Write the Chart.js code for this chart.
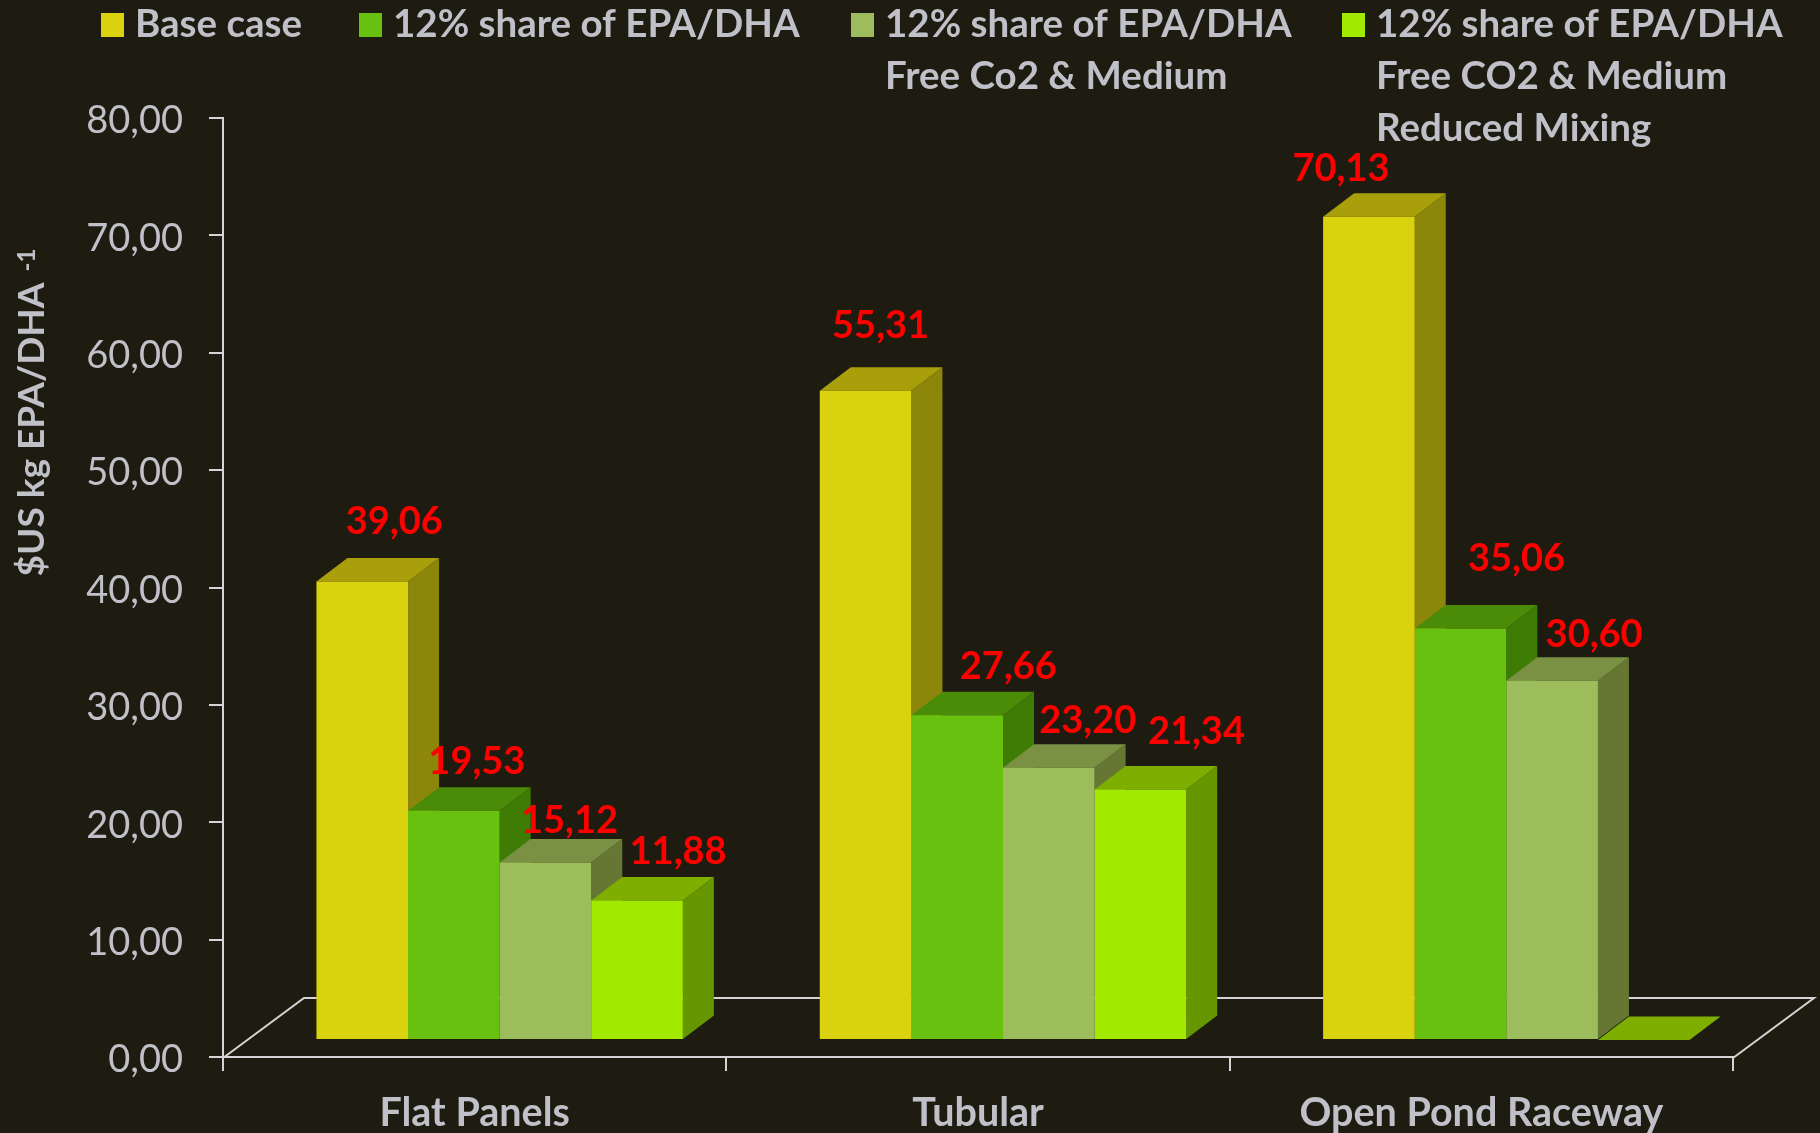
<!DOCTYPE html>
<html><head><meta charset="utf-8">
<style>html,body{margin:0;padding:0;background:#1e1c11}canvas{display:block}</style>
<script src="https://cdn.jsdelivr.net/npm/chart.js@4"></script>
</head><body><canvas id="c" width="1820" height="1133"></canvas>
<script>
const categories = ['Flat Panels', 'Tubular', 'Open Pond Raceway'];
const seriesNames = [
  ['Base case'],
  ['12% share of EPA/DHA'],
  ['12% share of EPA/DHA', 'Free Co2 & Medium'],
  ['12% share of EPA/DHA', 'Free CO2 & Medium', 'Reduced Mixing']
];
const baseCase = [39.06, 55.31, 70.13];
const share12 = [19.53, 27.66, 35.06];
const share12Free = [15.12, 23.20, 30.60];
const share12Reduced = [11.88, 21.34, 0];
const yTickLabels = ['0,00','10,00','20,00','30,00','40,00','50,00','60,00','70,00','80,00'];
const frontColors = ['#dbd20f', '#68c00f', '#9dbc5b', '#a2e900'];
const sideColors = ['#8c860a', '#3f7c06', '#657733', '#669600'];
const topColors = ['#a89f0a', '#4a8c08', '#7a9144', '#7dae00'];
const axisColor = '#d4d4d6', textColor = '#bfc0c8', bgColor = '#1e1c11';
const FONT = 'Lato, Carlito, sans-serif';
const shift = {x: 25, y: -17}, depth = {x: 31, y: 23.5}, floorDepth = {x: 81, y: 60};
// label offsets from the bar's top centre [series][category]
const labelOffsets = [
  [[32,-60],[15,-65],[-28,-48]],
  [[23,-49],[51,-49],[56,-70]],
  [[24,-42],[39,-47],[42,-46]],
  [[41,-49],[56,-58],[0,0]]
];
const legendX = [101, 359, 851, 1342];
const values = [baseCase, share12, share12Free, share12Reduced];

const threeD = {
  id: 'threeD',
  beforeDraw(chart) {
    const {ctx, width, height} = chart;
    ctx.save(); ctx.fillStyle = bgColor; ctx.fillRect(0,0,width,height); ctx.restore();
    const ys = chart.scales.y;
    if (!ys._nudged) {
      ys._nudged = true;
      const orig = ys.drawLabels;
      ys.drawLabels = function (ca) { ctx.save(); ctx.translate(0, 3); orig.call(this, ca); ctx.restore(); };
    }
  },
  beforeDatasetsDraw(chart) {
    const {ctx, chartArea: a} = chart;
    ctx.save();
    ctx.strokeStyle = axisColor; ctx.lineWidth = 2;
    ctx.beginPath();
    ctx.moveTo(a.left, a.bottom + 1);
    ctx.lineTo(a.left + floorDepth.x, a.bottom + 1 - floorDepth.y);
    ctx.lineTo(a.right + floorDepth.x, a.bottom + 1 - floorDepth.y);
    ctx.lineTo(a.right, a.bottom + 1);
    ctx.stroke();
    ctx.translate(shift.x, shift.y);
    for (let c = 0; c < categories.length; c++) {
      for (let d = 0; d < values.length; d++) {
        const b = chart.getDatasetMeta(d).data[c];
        const L = b.x - b.width/2, R = b.x + b.width/2, T = b.y, B = b.base;
        ctx.fillStyle = sideColors[d];
        ctx.beginPath(); ctx.moveTo(R,T); ctx.lineTo(R+depth.x,T-depth.y); ctx.lineTo(R+depth.x,B-depth.y); ctx.lineTo(R,B); ctx.closePath(); ctx.fill();
        ctx.fillStyle = topColors[d];
        ctx.beginPath(); ctx.moveTo(L,T); ctx.lineTo(L+depth.x,T-depth.y); ctx.lineTo(R+depth.x,T-depth.y); ctx.lineTo(R,T); ctx.closePath(); ctx.fill();
      }
    }
    ctx.restore();
  },
  beforeDatasetDraw(chart) { chart.ctx.save(); chart.ctx.translate(shift.x, shift.y); },
  afterDatasetDraw(chart) { chart.ctx.restore(); },
  afterDatasetsDraw(chart) {
    const {ctx} = chart;
    ctx.save();
    ctx.fillStyle = '#ff0000'; ctx.font = `bold 38px ${FONT}`; ctx.textAlign = 'center'; ctx.textBaseline = 'middle';
    values.forEach((vals, d) => vals.forEach((v, c) => {
      if (!v) return;
      const b = chart.getDatasetMeta(d).data[c];
      const o = labelOffsets[d][c];
      ctx.fillText(v.toFixed(2).replace('.', ','), b.x + shift.x + o[0], b.y + shift.y + o[1]);
    }));
    ctx.textAlign = 'left'; ctx.font = `bold 38.5px ${FONT}`;
    seriesNames.forEach((lines, d) => {
      ctx.fillStyle = frontColors[d];
      ctx.fillRect(legendX[d], 13, 23, 24);
      ctx.fillStyle = textColor;
      lines.forEach((t, i) => ctx.fillText(t, legendX[d] + 34, 25 + i * 51.8));
    });
    ctx.translate(32, 429.5); ctx.rotate(-Math.PI/2);
    ctx.textAlign = 'center'; ctx.font = `bold 37px ${FONT}`;
    ctx.fillText('$US kg EPA/DHA', 0, 0);
    ctx.font = `bold 24px ${FONT}`; ctx.textAlign = 'left';
    ctx.fillText('-1', 158, -5);
    ctx.restore();
  }
};

new Chart(document.getElementById('c'), {
  type: 'bar',
  data: {
    labels: categories,
    datasets: values.map((v, i) => ({
      label: seriesNames[i].join(' '),
      data: v,
      backgroundColor: frontColors[i],
      categoryPercentage: 0.728,
      barPercentage: 1,
      clip: false
    }))
  },
  options: {
    responsive: false, animation: false,
    layout: {padding: {left: 0, top: 118, right: 87, bottom: 0}},
    plugins: {legend: {display: false}, title: {display: false}, tooltip: {enabled: false}},
    scales: {
      x: {
        afterFit(s) { s.height = 76; },
        grid: {display: true, drawOnChartArea: false, color: axisColor, tickColor: axisColor, tickLength: 14, lineWidth: 2, offset: true},
        border: {color: axisColor, width: 2},
        ticks: {color: textColor, font: {family: FONT, size: 39.5, weight: 'bold'}, padding: 19, maxRotation: 0, autoSkip: false}
      },
      y: {
        min: 0, max: 80,
        afterFit(s) { s.width = 223; },
        grid: {display: true, drawOnChartArea: false, color: axisColor, tickColor: axisColor, tickLength: 14, lineWidth: 2},
        border: {color: axisColor, width: 2},
        ticks: {stepSize: 10, color: textColor, font: {family: FONT, size: 38, weight: 'normal'}, padding: 26,
          callback: (v) => yTickLabels[v / 10]}
      }
    }
  },
  plugins: [threeD]
});
</script></body></html>
